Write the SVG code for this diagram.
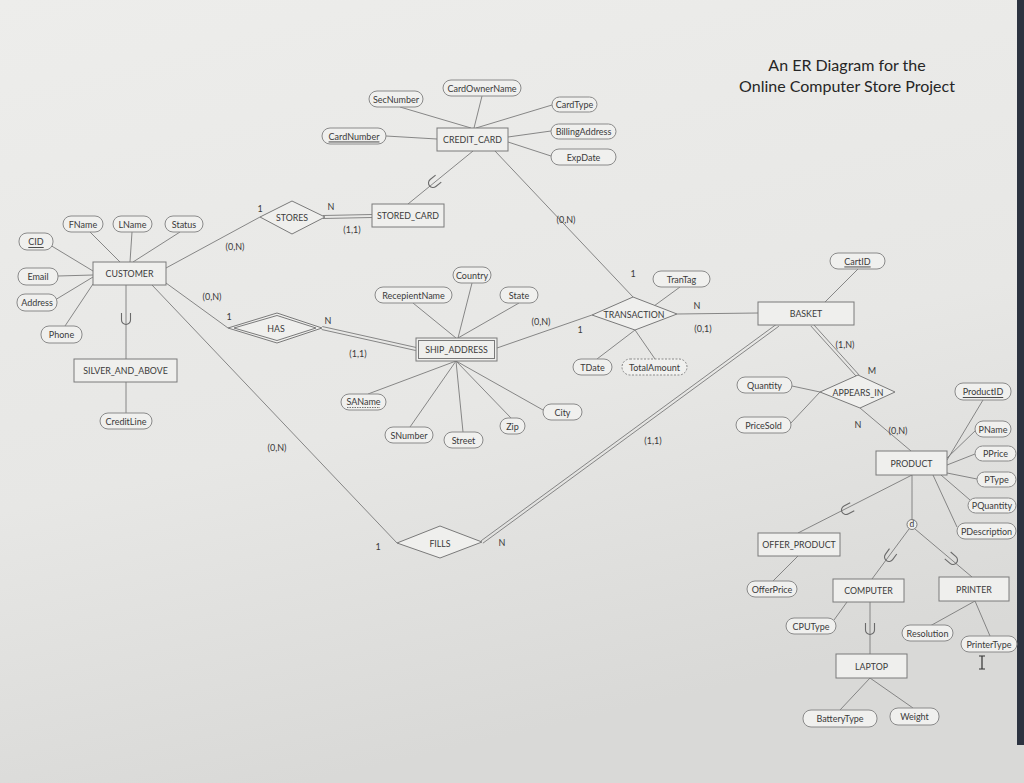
<svg xmlns="http://www.w3.org/2000/svg" width="1024" height="783" viewBox="0 0 1024 783">
<defs>
<linearGradient id="bg" x1="0" y1="0" x2="0.3" y2="1">
<stop offset="0" stop-color="#ededeb"/>
<stop offset="0.6" stop-color="#e7e7e5"/>
<stop offset="1" stop-color="#d9d9d7"/>
</linearGradient>
<path id="u" d="M-4.5,-7 V0 A4.5,4.5 0 0 0 4.5,0 V-7"/>
</defs>
<style>
text{font-family:Lato,"Open Sans","Liberation Sans",sans-serif;fill:#3a3a3a;font-size:9px;text-anchor:middle;dominant-baseline:central}
.t{font-size:16px;fill:#262626}
.n{font-size:8.8px}
.a{fill:#f0f0ee;stroke:#8a8a8a;stroke-width:1}
.d{fill:#f0f0ee;stroke:#8a8a8a;stroke-width:1;stroke-dasharray:2,1.5}
.r{fill:#efefed;stroke:#7a7a7a;stroke-width:1}
.l{stroke:#7a7a7a;stroke-width:0.9;fill:none}
.s{stroke:#6a6a6a;stroke-width:1.1;fill:none}
.c{font-size:9px}
.k{text-decoration:underline}
</style>
<rect x="0" y="0" width="1024" height="783" fill="url(#bg)"/>
<rect x="1017" y="0" width="7" height="745" fill="#2c3340"/>

<text class="t" x="847" y="64">An ER Diagram for the</text>
<text class="t" x="847" y="85">Online Computer Store Project</text>

<g id="connectors">
<line class="l" x1="90" y1="232" x2="120" y2="262"/>
<line class="l" x1="132" y1="232" x2="130" y2="262"/>
<line class="l" x1="180" y1="232" x2="133" y2="262"/>
<line class="l" x1="50" y1="245" x2="93" y2="271"/>
<line class="l" x1="58" y1="276" x2="93" y2="275"/>
<line class="l" x1="55" y1="300" x2="93" y2="277"/>
<line class="l" x1="65" y1="326" x2="93" y2="284"/>
<line class="l" x1="126" y1="285" x2="126" y2="359"/>
<line class="l" x1="126" y1="382" x2="126" y2="413"/>
<line class="l" x1="166" y1="268" x2="260" y2="217"/>
<line class="l" x1="166" y1="283" x2="228" y2="328"/>
<line class="l" x1="152" y1="285" x2="397" y2="543"/>
<line class="l" x1="323" y1="215.5" x2="372" y2="214.5"/>
<line class="l" x1="323" y1="218.5" x2="372" y2="217.5"/>
<line class="l" x1="322.3" y1="326.5" x2="416.3" y2="347.5"/>
<line class="l" x1="321.7" y1="329.5" x2="415.7" y2="350.5"/>
<line class="l" x1="400" y1="107" x2="471" y2="128"/>
<line class="l" x1="482" y1="96" x2="474" y2="128"/>
<line class="l" x1="552" y1="105" x2="476" y2="128"/>
<line class="l" x1="551" y1="131" x2="508" y2="137"/>
<line class="l" x1="551" y1="156" x2="508" y2="142"/>
<line class="l" x1="386" y1="136" x2="437" y2="139"/>
<line class="l" x1="473" y1="151" x2="408" y2="204"/>
<line class="l" x1="495" y1="151" x2="633" y2="297"/>
<line class="l" x1="472" y1="283" x2="458" y2="338"/>
<line class="l" x1="413" y1="303" x2="456" y2="338"/>
<line class="l" x1="519" y1="303" x2="458" y2="338"/>
<line class="l" x1="368" y1="394" x2="456" y2="361"/>
<line class="l" x1="410" y1="427" x2="456" y2="361"/>
<line class="l" x1="463" y1="432" x2="456" y2="361"/>
<line class="l" x1="511" y1="418" x2="456" y2="361"/>
<line class="l" x1="543" y1="410" x2="456" y2="361"/>
<line class="l" x1="497" y1="348" x2="592" y2="315"/>
<line class="l" x1="680" y1="287" x2="654" y2="306"/>
<line class="l" x1="597" y1="359" x2="635" y2="330"/>
<line class="l" x1="655" y1="359" x2="635" y2="330"/>
<line class="l" x1="677" y1="314" x2="758" y2="313"/>
<line class="l" x1="481.1" y1="540.8" x2="777.1" y2="323.8"/>
<line class="l" x1="482.9" y1="543.2" x2="778.9" y2="326.2"/>
<line class="l" x1="858" y1="269" x2="825" y2="302"/>
<line class="l" x1="813.1" y1="324" x2="859.1" y2="375"/>
<line class="l" x1="810.9" y1="326" x2="856.9" y2="377"/>
<line class="l" x1="792" y1="386" x2="820" y2="392"/>
<line class="l" x1="790" y1="424" x2="820" y2="392"/>
<line class="l" x1="860" y1="408" x2="911" y2="451"/>
<line class="l" x1="983" y1="400" x2="947" y2="460"/>
<line class="l" x1="976" y1="430" x2="947" y2="458"/>
<line class="l" x1="975" y1="454" x2="947" y2="465"/>
<line class="l" x1="977" y1="479" x2="947" y2="473"/>
<line class="l" x1="970" y1="500" x2="941" y2="475"/>
<line class="l" x1="957" y1="527" x2="933" y2="475"/>
<line class="l" x1="912" y1="475" x2="798" y2="533"/>
<line class="l" x1="912" y1="475" x2="912" y2="520"/>
<line class="l" x1="909" y1="529" x2="872" y2="579"/>
<line class="l" x1="915" y1="529" x2="972" y2="577"/>
<line class="l" x1="798" y1="556" x2="773" y2="581"/>
<line class="l" x1="847" y1="602" x2="834" y2="620"/>
<line class="l" x1="870" y1="602" x2="870" y2="654"/>
<line class="l" x1="870" y1="678" x2="840" y2="710"/>
<line class="l" x1="870" y1="678" x2="913" y2="708"/>
<line class="l" x1="975" y1="601" x2="930" y2="626"/>
<line class="l" x1="975" y1="601" x2="990" y2="636"/>
<use href="#u" class="s" transform="translate(126,320)"/>
<use href="#u" class="s" transform="translate(433,183) rotate(51)"/>
<use href="#u" class="s" transform="translate(846,510) rotate(63)"/>
<use href="#u" class="s" transform="translate(889,557) rotate(36)"/>
<use href="#u" class="s" transform="translate(953,560) rotate(-49)"/>
<use href="#u" class="s" transform="translate(870,630)"/>
<text class="c" x="260" y="208">1</text>
<text class="c" x="331" y="206">N</text>
<text class="c" x="352" y="229">(1,1)</text>
<text class="c" x="235" y="246">(0,N)</text>
<text class="c" x="212" y="296">(0,N)</text>
<text class="c" x="229" y="316">1</text>
<text class="c" x="328" y="320">N</text>
<text class="c" x="358" y="353">(1,1)</text>
<text class="c" x="277" y="447">(0,N)</text>
<text class="c" x="378" y="546">1</text>
<text class="c" x="502" y="542">N</text>
<text class="c" x="653" y="440">(1,1)</text>
<text class="c" x="566" y="219">(0,N)</text>
<text class="c" x="633" y="273">1</text>
<text class="c" x="541" y="321">(0,N)</text>
<text class="c" x="580" y="329">1</text>
<text class="c" x="697" y="305">N</text>
<text class="c" x="703" y="328">(0,1)</text>
<text class="c" x="845" y="344">(1,N)</text>
<text class="c" x="872" y="370">M</text>
<text class="c" x="858" y="424">N</text>
<text class="c" x="898" y="430">(0,N)</text>
</g>

<g id="customer"><rect class="r" x="93" y="262" width="73" height="23"/><text class="n" x="129.5" y="273.5">CUSTOMER</text></g>
<g id="silver"><rect class="r" x="74" y="359" width="103" height="23"/><text class="n" x="125.5" y="370.5">SILVER_AND_ABOVE</text></g>
<g id="credit_card"><rect class="r" x="437" y="128" width="71" height="23"/><text class="n" x="472.5" y="139.5">CREDIT_CARD</text></g>
<g id="stored_card"><rect class="r" x="372" y="204" width="72" height="23"/><text class="n" x="408" y="215.5">STORED_CARD</text></g>
<g id="ship_address"><rect class="r" x="416" y="338" width="81" height="23"/><rect class="r" x="418.5" y="340.5" width="76" height="18"/><text class="n" x="456.5" y="349.5">SHIP_ADDRESS</text></g>
<g id="basket"><rect class="r" x="758" y="302" width="96" height="23"/><text class="n" x="806" y="313.5">BASKET</text></g>
<g id="product"><rect class="r" x="876" y="451" width="71" height="24"/><text class="n" x="911.5" y="463">PRODUCT</text></g>
<g id="offer_product"><rect class="r" x="758" y="533" width="82" height="23"/><text class="n" x="799" y="544.5">OFFER_PRODUCT</text></g>
<g id="computer"><rect class="r" x="833" y="579" width="71" height="23"/><text class="n" x="868.5" y="590.5">COMPUTER</text></g>
<g id="printer"><rect class="r" x="939" y="577" width="70" height="24"/><text class="n" x="974" y="589">PRINTER</text></g>
<g id="laptop"><rect class="r" x="836" y="654" width="71" height="24"/><text class="n" x="871.5" y="666">LAPTOP</text></g>

<g id="stores"><polygon class="r" points="260,217 292,201 325,217 292,234"/><text class="n" x="292" y="217">STORES</text></g>
<g id="has"><polygon class="r" points="228,328 277,313 322,328 277,343"/><polygon class="r" points="234,328 277,315.5 316,328 277,340.5"/><text class="n" x="276" y="328">HAS</text></g>
<g id="fills"><polygon class="r" points="397,543 440,526 482,542 440,558"/><text class="n" x="440" y="543">FILLS</text></g>
<g id="transaction"><polygon class="r" points="592,315 633,297 677,314 635,330"/><text class="n" x="634" y="314.5">TRANSACTION</text></g>
<g id="appears_in"><polygon class="r" points="820,392 858,375 895,392 860,408"/><text class="n" x="858" y="392">APPEARS_IN</text></g>
<g id="d"><circle class="r" cx="912" cy="524.5" r="5"/><text x="912" y="524" style="font-size:8.5px">d</text></g>

<g id="fname"><rect class="a" x="63" y="216" width="40" height="16" rx="8"/><text x="83" y="224">FName</text></g>
<g id="lname"><rect class="a" x="113" y="216" width="39" height="16" rx="8"/><text x="132.5" y="224">LName</text></g>
<g id="status"><rect class="a" x="165" y="216" width="38" height="16" rx="8"/><text x="184" y="224">Status</text></g>
<g id="cid"><rect class="a" x="19" y="233" width="34" height="17" rx="8"/><text class="k" x="36" y="241.5">CID</text></g>
<g id="email"><rect class="a" x="18" y="268" width="40" height="17" rx="8"/><text x="38" y="276.5">Email</text></g>
<g id="address"><rect class="a" x="17" y="294" width="40" height="17" rx="8"/><text x="37" y="302.5">Address</text></g>
<g id="phone"><rect class="a" x="41" y="326" width="41" height="17" rx="8"/><text x="61.5" y="334.5">Phone</text></g>
<g id="creditline"><rect class="a" x="100" y="413" width="52" height="16" rx="8"/><text x="126" y="421">CreditLine</text></g>
<g id="secnumber"><rect class="a" x="369" y="91" width="54" height="16" rx="8"/><text x="396" y="99">SecNumber</text></g>
<g id="cardownername"><rect class="a" x="443" y="80" width="78" height="16" rx="8"/><text x="482" y="88">CardOwnerName</text></g>
<g id="cardtype"><rect class="a" x="552" y="97" width="45" height="15" rx="7.5"/><text x="574.5" y="104.5">CardType</text></g>
<g id="billingaddress"><rect class="a" x="551" y="124" width="65" height="15" rx="7.5"/><text x="583.5" y="131.5">BillingAddress</text></g>
<g id="expdate"><rect class="a" x="551" y="149" width="65" height="16" rx="8"/><text x="583.5" y="157">ExpDate</text></g>
<g id="cardnumber"><rect class="a" x="322" y="128" width="64" height="16" rx="8"/><text class="k" x="354" y="136">CardNumber</text></g>
<g id="country"><rect class="a" x="453" y="267" width="38" height="16" rx="8"/><text x="472" y="275">Country</text></g>
<g id="recepientname"><rect class="a" x="375" y="287" width="77" height="16" rx="8"/><text x="413.5" y="295">RecepientName</text></g>
<g id="state"><rect class="a" x="500" y="287" width="38" height="16" rx="8"/><text x="519" y="295">State</text></g>
<g id="saname"><rect class="a" x="341" y="394" width="45" height="16" rx="8"/><text x="363.5" y="401.5">SAName</text><line x1="347" y1="407.5" x2="380" y2="407.5" stroke="#555" stroke-width="0.8" stroke-dasharray="1.5,1"/></g>
<g id="snumber"><rect class="a" x="385" y="427" width="48" height="16" rx="8"/><text x="409" y="435">SNumber</text></g>
<g id="street"><rect class="a" x="444" y="432" width="39" height="16" rx="8"/><text x="463.5" y="440">Street</text></g>
<g id="zip"><rect class="a" x="500" y="418" width="25" height="16" rx="8"/><text x="512.5" y="426">Zip</text></g>
<g id="city"><rect class="a" x="543" y="404" width="39" height="16" rx="8"/><text x="562.5" y="412">City</text></g>
<g id="trantag"><rect class="a" x="653" y="271" width="57" height="16" rx="8"/><text x="681.5" y="279">TranTag</text></g>
<g id="tdate"><rect class="a" x="573" y="359" width="39" height="16" rx="8"/><text x="592.5" y="367">TDate</text></g>
<g id="totalamount"><rect class="d" x="622" y="359" width="65" height="16" rx="8"/><text x="654.5" y="367">TotalAmount</text></g>
<g id="cartid"><rect class="a" x="830" y="253" width="55" height="16" rx="8"/><text class="k" x="857.5" y="261">CartID</text></g>
<g id="quantity"><rect class="a" x="737" y="377" width="55" height="16" rx="8"/><text x="764.5" y="385">Quantity</text></g>
<g id="pricesold"><rect class="a" x="736" y="417" width="55" height="16" rx="8"/><text x="763.5" y="425">PriceSold</text></g>
<g id="productid"><rect class="a" x="955" y="383" width="56" height="17" rx="8"/><text class="k" x="983" y="391.5">ProductID</text></g>
<g id="pname"><rect class="a" x="975" y="421" width="36" height="16" rx="8"/><text x="993" y="429">PName</text></g>
<g id="pprice"><rect class="a" x="975" y="446" width="41" height="15" rx="7.5"/><text x="995.5" y="453.5">PPrice</text></g>
<g id="ptype"><rect class="a" x="977" y="472" width="39" height="15" rx="7.5"/><text x="996.5" y="479.5">PType</text></g>
<g id="pquantity"><rect class="a" x="968" y="498" width="48" height="15" rx="7.5"/><text x="992" y="505.5">PQuantity</text></g>
<g id="pdescription"><rect class="a" x="957" y="523" width="59" height="16" rx="8"/><text x="986.5" y="531">PDescription</text></g>
<g id="offerprice"><rect class="a" x="747" y="581" width="50" height="16" rx="8"/><text x="772" y="589">OfferPrice</text></g>
<g id="cputype"><rect class="a" x="786" y="618" width="50" height="16" rx="8"/><text x="811" y="626">CPUType</text></g>
<g id="resolution"><rect class="a" x="902" y="625" width="51" height="16" rx="8"/><text x="927.5" y="633">Resolution</text></g>
<g id="printertype"><rect class="a" x="961" y="636" width="56" height="16" rx="8"/><text x="989" y="644">PrinterType</text></g>
<g id="batterytype"><rect class="a" x="803" y="710" width="74" height="17" rx="8"/><text x="840" y="718.5">BatteryType</text></g>
<g id="weight"><rect class="a" x="890" y="708" width="49" height="17" rx="8"/><text x="914.5" y="716.5">Weight</text></g>

<path d="M979,656 H985 M982,656 V669 M979,669 H985" stroke="#333" stroke-width="1.2" fill="none"/>
</svg>
